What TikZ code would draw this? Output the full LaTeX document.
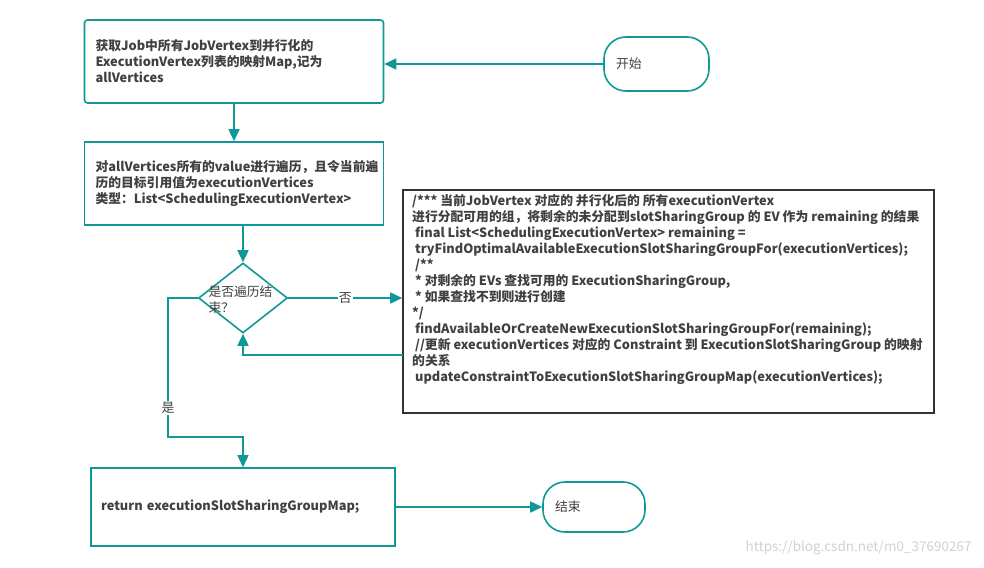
\documentclass[tikz,border=0pt]{standalone}
\usepackage{fontspec}
\setmainfont{Noto Sans CJK SC}
\usetikzlibrary{shapes.geometric,arrows.meta}
\definecolor{flowteal}{RGB}{14,152,152}
\definecolor{txtgray}{RGB}{64,64,64}
\begin{document}
\begin{tikzpicture}[
    x=1pt, y=-1pt,
    every node/.style={text=txtgray, font=\fontsize{12.8}{16}\selectfont},
    bold/.style={font=\fontsize{12.8}{16}\selectfont\bfseries},
    stepbox/.style={draw=flowteal, line width=1.6pt, align=left, inner xsep=11pt, bold},
    cond/.style={draw=flowteal, line width=1.6pt, diamond, minimum width=89pt, minimum height=70pt, inner sep=0pt},
    term/.style={draw=flowteal, line width=1.6pt, rounded corners=22pt, align=left, inner xsep=12pt},
    codebox/.style={draw=black!80, line width=1.6pt},
    flow/.style={draw=flowteal, line width=1.6pt, -{Triangle[length=12pt,width=11pt]}}
]
    \useasboundingbox (0,0) rectangle (984,567);

    \node (start) [term, text width=81pt, minimum height=54pt] at (656.5,64) {开始};
    \node (job) [stepbox, rounded corners=3pt, text width=277pt, minimum height=83pt] at (234,61.5)
        {获取Job中所有JobVertex到并行化的\\ExecutionVertex列表的映射Map,记为\\allVertices};
    \node (loop) [stepbox, text width=277pt, minimum height=83pt] at (234,183.5)
        {对allVertices所有的value进行遍历，且令当前遍\\历的目标引用值为executionVertices\\类型：List<SchedulingExecutionVertex>};
    \node (done) [cond] at (243,298) {};
    \node (donetext) [anchor=west, align=left] at (205,300) {是否遍历结\\束？};

    \node (code) [codebox, minimum width=531pt, minimum height=223pt] at (668.5,301.5) {};
    \node (codetext) [anchor=north west, align=left, bold, inner sep=0pt] at (412,194) {%
        /*** 当前JobVertex 对应的 并行化后的 所有executionVertex\\
        进行分配可用的组，将剩余的未分配到slotSharingGroup 的 EV 作为 remaining 的结果\\
        \ final List<SchedulingExecutionVertex> remaining =\\
        \ tryFindOptimalAvailableExecutionSlotSharingGroupFor(executionVertices);\\
        \ /**\\
        \ * 对剩余的 EVs 查找可用的 ExecutionSharingGroup,\\
        \ * 如果查找不到则进行创建\\
        */\\
        \ findAvailableOrCreateNewExecutionSlotSharingGroupFor(remaining);\\
        \ //更新 executionVertices 对应的 Constraint 到 ExecutionSlotSharingGroup 的映射\\
        的关系\\
        \ updateConstraintToExecutionSlotSharingGroupMap(executionVertices);};

    \node (ret) [stepbox, inner xsep=10pt, text width=284pt, minimum height=78pt] at (243,507)
        {return executionSlotSharingGroupMap;};
    \node (end) [term, text width=78pt, minimum height=50pt] at (594,507) {结束};

    \coordinate (back) at (403,355);
    \coordinate (yes) at (168,437);

    \draw[flow] (start.west) -- (start.west -| job.east);
    \draw[flow] (job.south) -- (loop.north);
    \draw[flow] (loop.south -| done.north) -- (done.north);
    \draw[flow] (done.east) -- node[fill=white, inner sep=1pt] {否} (done.east -| code.west);
    \draw[flow] (back) -| (done.south);
    \draw[flow] (done.west) -| (yes) -| (ret.north);
    \node (yeslabel) [fill=white, inner sep=1pt] at (168,408) {是};
    \draw[flow] (ret.east) -- (end.west);

    \node (wm) [anchor=east, text=black!18, font=\fontsize{13.5}{16}\selectfont] at (975,548)
        {https://blog.csdn.net/m0\_37690267};
\end{tikzpicture}
\end{document}
